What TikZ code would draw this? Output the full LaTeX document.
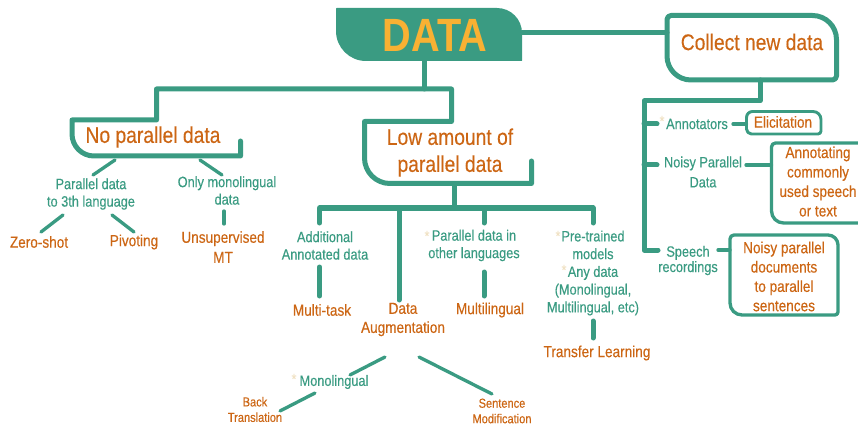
\documentclass[tikz,border=0pt]{standalone}
\usepackage{fontspec}
\setmainfont{Liberation Sans}[FakeStretch=0.85,FakeBold=0.35]
\newfontfamily\datafont{Liberation Sans Bold}[FakeStretch=0.85]
\definecolor{G}{RGB}{58,155,130}
\definecolor{O}{RGB}{204,102,20}
\definecolor{Y}{RGB}{248,177,51}
\definecolor{AS}{RGB}{240,225,195}
\newcommand\rrect[9][]{%
  \path[#1] ({#2},{#3+#6}) arc[start angle=180,end angle=270,radius=#6] -- ({#4-#7},{#3}) arc[start angle=270,end angle=360,radius=#7] -- ({#4},{#5-#8}) arc[start angle=0,end angle=90,radius=#8] -- ({#2+#9},{#5}) arc[start angle=90,end angle=180,radius=#9] -- cycle;}
\begin{document}
\begin{tikzpicture}[x=0.75pt,y=-0.75pt,
  ln/.style={draw=G, line width=3.75pt, line cap=round, line join=round},
  ln3/.style={draw=G, line width=2.5pt, line cap=round},
  bx/.style={draw=G, line width=2.5pt, line join=round},
  gt/.style={text=G, inner sep=0, align=center, font=\fontsize{11.25}{13.1}\selectfont},
  ot/.style={text=O, inner sep=0, align=center, font=\fontsize{12}{14.6}\selectfont},
  hd/.style={text=O, inner sep=0, align=center, font=\fontsize{17}{20.25}\selectfont},
  sm/.style={text=O, inner sep=0, align=center, font=\fontsize{9.75}{11.6}\selectfont},
  ast/.style={text=AS, inner sep=0, font=\fontsize{11}{12}\selectfont}]
\useasboundingbox (0,0) rectangle (858,428);

% --- top shapes
\rrect[fill=G]{336}{8}{522}{61}{0.5}{25}{0.5}{30}
\node[text=Y, inner sep=0, font=\datafont\fontsize{35}{40}\selectfont] (data) at (435,35) {DATA};
\rrect[bx, line width=3.75pt]{667}{15.5}{836.5}{80}{4}{24}{4}{24}
\node[hd] (collect) at (752,42) {Collect new data};

\coordinate (dataR) at (522,33);
\coordinate (collectL) at (667,33);
\coordinate (dataB) at (424,61);
\coordinate (hub) at (424,89);
\draw[ln] (dataR) -- (collectL);
\draw[ln] (dataB) -- (hub);

% --- brackets
\node[hd] (nopar) at (153,137) {No parallel data};
\node[hd] (low) at (450,152.5) {Low amount of\\parallel data};
\draw[ln] (240.5,141) -- (240.5,156) -- (94,156) arc[start angle=90,end angle=180,radius=22]
  -- (72,120) -- (156.5,120) -- (156.5,89) -- (451.5,89) -- (451.5,121.5) -- (364.5,121.5)
  -- (364.5,158) arc[start angle=180,end angle=90,radius=25.5] -- (531.5,183.5) -- (531.5,161);

% --- no parallel data subtree
\node[gt] (p3) at (91,194) {Parallel data\\to 3th language};
\node[gt] (onlymono) at (227,190.5) {Only monolingual\\data};
\node[ot] (zero) at (39,242) {Zero-shot};
\node[ot] (pivot) at (134,242) {Pivoting};
\node[ot, font=\fontsize{12}{15}\selectfont] (unsup) at (223,247) {Unsupervised\\MT};
\coordinate (c1a) at (115,160); \coordinate (c1b) at (93,175);
\coordinate (c2a) at (200,160); \coordinate (c2b) at (222,175);
\coordinate (c3a) at (63,215); \coordinate (c3b) at (41,232);
\coordinate (c4a) at (112,215); \coordinate (c4b) at (134,232);
\coordinate (c5a) at (224,211); \coordinate (c5b) at (224,224);
\draw[ln3] (c1a) -- (c1b);
\draw[ln3] (c2a) -- (c2b);
\draw[ln3] (c3a) -- (c3b);
\draw[ln3] (c4a) -- (c4b);
\draw[ln3] (c5a) -- (c5b);

% --- low amount subtree
\draw[ln] (454,183.5) -- (454,208);
\draw[ln] (319.5,223) -- (319.5,208) -- (593,208) -- (593,223);
\draw[ln] (399,208) -- (399,300);
\draw[ln] (484,208) -- (484,223);
\node[gt] (addl) at (325,245.5) {Additional\\Annotated data};
\node[gt] (pdo) at (474,245.5) {Parallel data in\\other languages};
\node[ast] (ast1) at (427,236) {*};
\node[gt, font=\fontsize{11.25}{13.3}\selectfont] (pre) at (593,273) {Pre-trained\\models\\Any data\\(Monolingual,\\Multilingual, etc)};
\node[ast] (ast2) at (558,236) {*};
\node[ast] (ast3) at (564,270) {*};
\node[ot] (mtask) at (322,310) {Multi-task};
\node[ot, font=\fontsize{12}{14.3}\selectfont] (dataaug) at (403,319.5) {Data\\Augmentation};
\node[ot] (multil) at (490,310) {Multilingual};
\node[ot] (transfer) at (597,353) {Transfer Learning};
\draw[ln] (319.5,267) -- (319.5,296);
\draw[ln] (484,272) -- (484,296);
\draw[ln] (593,321) -- (593,338);

% --- data augmentation subtree
\node[gt] (mono) at (334,382) {Monolingual};
\node[ast] (ast4) at (294,379) {*};
\node[sm] (back) at (255,409.5) {Back\\Translation};
\node[sm] (sentmod) at (502,411) {Sentence\\Modification};
\coordinate (d1a) at (385,357); \coordinate (d1b) at (350,375);
\coordinate (d2a) at (315,393); \coordinate (d2b) at (280,411);
\coordinate (d3a) at (419,357); \coordinate (d3b) at (492,394);
\draw[ln3] (d1a) -- (d1b);
\draw[ln3] (d2a) -- (d2b);
\draw[ln3] (d3a) -- (d3b);

% --- collect new data subtree
\draw[ln] (760,80) -- (760,101) -- (644,101) -- (644,250) -- (658,250);
\draw[ln] (644,124) -- (657,124);
\draw[ln] (644,165) -- (657,165);
\node[gt] (annot) at (697,124) {Annotators};
\node[ast] (ast5) at (662,121) {*};
\node[gt, font=\fontsize{11.25}{15}\selectfont] (noisy) at (703,172) {Noisy Parallel\\Data};
\node[gt, font=\fontsize{11.25}{8.25}\selectfont] (speech) at (688,260.5) {Speech\\recordings};

\rrect[bx, line width=2.2pt]{746.5}{111.5}{821}{134}{6}{8}{3}{5}
\node[ot] (elic) at (783,122) {Elicitation};
\coordinate (elicL) at (746.5,124);
\draw[ln3] (733,124) -- (elicL);

\draw[bx] (860,143) -- (775.5,143) arc[start angle=270,end angle=180,radius=4] -- (771.5,211) arc[start angle=180,end angle=90,radius=12] -- (860,223);
\node[ot, font=\fontsize{12}{14.6}\selectfont] (annotating) at (818,181.5) {Annotating\\commonly\\used speech\\or text};
\coordinate (annL) at (771.5,165);
\draw[ln3] (746,165) -- (annL);

\rrect[bx]{730}{235}{838}{315}{4}{10}{3}{12}
\node[ot, font=\fontsize{12}{14.5}\selectfont] (noisydoc) at (784,276.5) {Noisy parallel\\documents\\to parallel\\sentences};
\coordinate (ndL) at (730,250);
\draw[ln3] (718,250) -- (ndL);
\end{tikzpicture}
\end{document}
